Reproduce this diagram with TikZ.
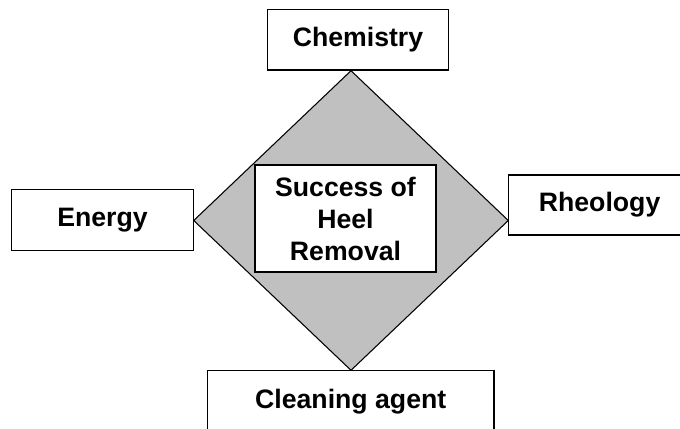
\documentclass[tikz,border=0pt]{standalone}
\usepackage{fontspec}
\setmainfont{Liberation Sans}
\usepackage{xcolor}
\usetikzlibrary{shapes.geometric,positioning}

\definecolor{heelgray}{RGB}{192,192,192}

\tikzset{
    factor/.style={draw, line width=1pt, fill=white, inner sep=0pt,
        font=\bfseries\fontsize{20}{24}\selectfont},
}

\begin{document}
\begin{tikzpicture}[x=0.75pt,y=-0.75pt]

    \useasboundingbox (0,0) rectangle (680,428);
    \clip (0,0) rectangle (680,428);

    % Ruit
    \node[diamond, draw, line width=0.8pt, fill=heelgray, inner sep=0pt,
          minimum width=236.25pt, minimum height=225pt] (ruit) at (351,220.5) {};

    % Factoren
    \node[factor, minimum width=135.75pt, minimum height=45.5pt] (chemistry) at (358,39.7) {Chemistry};
    \node[factor, minimum width=136.2pt, minimum height=46pt] (energy) at (102.5,220) {Energy};
    \node[factor, minimum width=137pt, minimum height=45pt] (rheology) at (599.6,205) {Rheology};
    \node[factor, minimum width=215pt, minimum height=46pt] (cleaning) at (350.7,401.3) {Cleaning agent};

    % Midden
    \node[factor, align=center, minimum width=135.75pt, minimum height=80.25pt] (success) at (345.5,218.5) {Success of\\Heel\\Removal};

\end{tikzpicture}
\end{document}
